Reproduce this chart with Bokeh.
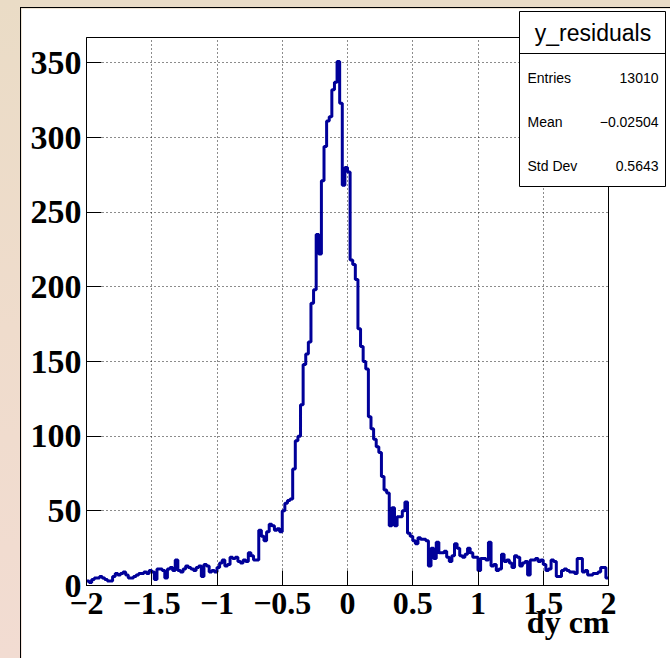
import numpy as np
from bokeh.plotting import figure
from bokeh.models import Range1d, FixedTicker
from bokeh.layouts import column
from bokeh.core.properties import value
from bokeh.embed import file_html
from bokeh.resources import INLINE

# ---------------- data ----------------
x_min, x_max = -2.0, 2.0
n_bins = 200
counts = [
    3, 2, 4, 5, 5, 6, 5, 4, 3, 3,
    6, 8, 7, 8, 9, 7, 5, 5, 6, 7,
    8, 8, 9, 8, 10, 9, 4, 11, 11, 10,
    5, 11, 12, 10, 17, 10, 9, 11, 13, 12,
    11, 10, 12, 13, 6, 14, 13, 9, 10, 9,
    12, 15, 17, 13, 14, 19, 18, 19, 16, 15,
    17, 16, 22, 20, 17, 17, 37, 33, 30, 36,
    41, 40, 37, 38, 36, 50, 55, 57, 58, 78,
    97, 100, 121, 148, 155, 163, 189, 198, 235, 222,
    271, 294, 311, 314, 332, 337, 351, 323, 268, 280,
    277, 218, 215, 205, 172, 160, 150, 145, 113, 105,
    98, 93, 89, 73, 64, 62, 40, 52, 40, 46,
    46, 50, 56, 35, 33, 30, 28, 32, 31, 31,
    30, 13, 25, 18, 29, 22, 22, 23, 19, 16,
    20, 28, 25, 20, 19, 21, 25, 22, 19, 19,
    10, 18, 18, 17, 29, 13, 14, 10, 11, 21,
    16, 17, 15, 12, 20, 19, 13, 15, 16, 7,
    17, 17, 18, 16, 17, 14, 10, 11, 17, 16,
    6, 6, 10, 11, 10, 9, 9, 8, 18, 18,
    9, 10, 7, 7, 8, 8, 9, 12, 12, 5,
]
x_ticks = [-2, -1.5, -1, -0.5, 0, 0.5, 1, 1.5, 2]
x_tick_labels = ["\u22122", "\u22121.5", "\u22121", "\u22120.5", "0", "0.5", "1", "1.5", "2"]
y_ticks = [0, 50, 100, 150, 200, 250, 300, 350]
x_title = "dy cm"
stat_title = "y_residuals"
stat_names = ["Entries", "Mean", "Std Dev"]
stat_values = ["13010", "\u22120.02504", "0.5643"]

edges = np.linspace(x_min, x_max, n_bins + 1)
step_y = list(counts) + [counts[-1]]

# ---------------- main figure ----------------
W, H = 650, 651
p = figure(width=W, height=H, x_range=Range1d(x_min, x_max), y_range=Range1d(0, 367),
           output_backend="svg", toolbar_location=None,
           min_border_left=65, min_border_right=63, min_border_top=29, min_border_bottom=74)
p.margin = (7, 0, 0, 20)
p.styles = {"border-left": "1px solid black", "border-top": "1px solid black"}
p.background_fill_color = "white"
p.border_fill_color = "white"
p.outline_line_color = "black"
p.outline_line_width = 1
p.outline_line_alpha = 1

p.step(x=list(edges), y=step_y, mode="after", line_color="#000099", line_width=3)

for ax in (p.xaxis[0], p.yaxis[0]):
    ax.major_tick_in = 15
    ax.major_tick_out = 0
    ax.minor_tick_in = 0
    ax.minor_tick_out = 0
    ax.axis_line_color = "black"
    ax.major_tick_line_color = "black"
    ax.major_label_text_font = "Liberation Serif"
    ax.major_label_text_font_style = "bold"
    ax.major_label_text_color = "black"

p.xaxis.major_label_text_font_size = "32px"
p.yaxis.major_label_text_font_size = "34px"
p.xaxis.ticker = FixedTicker(ticks=x_ticks)
p.xaxis.major_label_overrides = {t: s for t, s in zip(x_ticks, x_tick_labels)}
p.xaxis.major_label_standoff = 7
p.yaxis.ticker = FixedTicker(ticks=y_ticks)
p.yaxis.major_label_standoff = 5

for g in (p.xgrid[0], p.ygrid[0]):
    g.grid_line_color = "black"
    g.grid_line_dash = "1 3"
    g.grid_line_width = 1
    g.grid_line_alpha = 0.9

# ---------------- stat box (overlaid figure) ----------------
SW, SH = 147, 176
s = figure(width=SW, height=SH, x_range=Range1d(0, SW), y_range=Range1d(SH, 0),
           x_axis_type=None, y_axis_type=None,
           output_backend="svg", toolbar_location=None,
           min_border_left=0, min_border_right=0, min_border_top=0, min_border_bottom=0)
s.grid.visible = False
s.background_fill_color = "white"
s.border_fill_color = "white"
s.outline_line_color = "black"
s.outline_line_width = 1
s.segment(x0=[0], y0=[42], x1=[SW], y1=[42], line_color="black", line_width=1)
s.text(x=[SW / 2], y=[21], text=[stat_title], text_align="center", text_baseline="middle",
       text_font=value("Liberation Sans"), text_font_size="23px", text_color="black")
row_y = [66, 110, 154]
s.text(x=[8] * 3, y=row_y, text=stat_names, text_align="left", text_baseline="middle",
       text_font=value("Liberation Sans"), text_font_size="14px", text_color="black")
s.text(x=[SW - 8] * 3, y=row_y, text=stat_values, text_align="right", text_baseline="middle",
       text_font=value("Liberation Sans"), text_font_size="14px", text_color="black")
sbox = column(s, width=SW, height=SH,
              styles={"position": "absolute", "left": "519px", "top": "11px"})

# ---------------- x-axis title (overlaid figure) ----------------
TW, TH = 120, 56
t = figure(width=TW, height=TH, x_range=Range1d(0, TW), y_range=Range1d(TH, 0),
           x_axis_type=None, y_axis_type=None,
           output_backend="svg", toolbar_location=None,
           min_border_left=0, min_border_right=0, min_border_top=0, min_border_bottom=0)
t.grid.visible = False
t.background_fill_alpha = 0
t.border_fill_alpha = 0
t.outline_line_color = None
t.text(x=[TW - 2], y=[28], text=[x_title], text_align="right", text_baseline="middle",
       text_font=value("Liberation Serif"), text_font_style="bold",
       text_font_size="32px", text_color="black")
tbox = column(t, width=TW, height=TH,
              styles={"position": "absolute", "left": f"{611 - TW}px", "top": "593px"})

layout = column(p, sbox, tbox, width=670, height=658, spacing=0,
                styles={"position": "relative",
                        "background": "linear-gradient(to bottom, #eadcc6 0%, #efdccc 50%, #f2dcd2 100%)"})

open("out.html", "w").write(file_html(layout, INLINE))
